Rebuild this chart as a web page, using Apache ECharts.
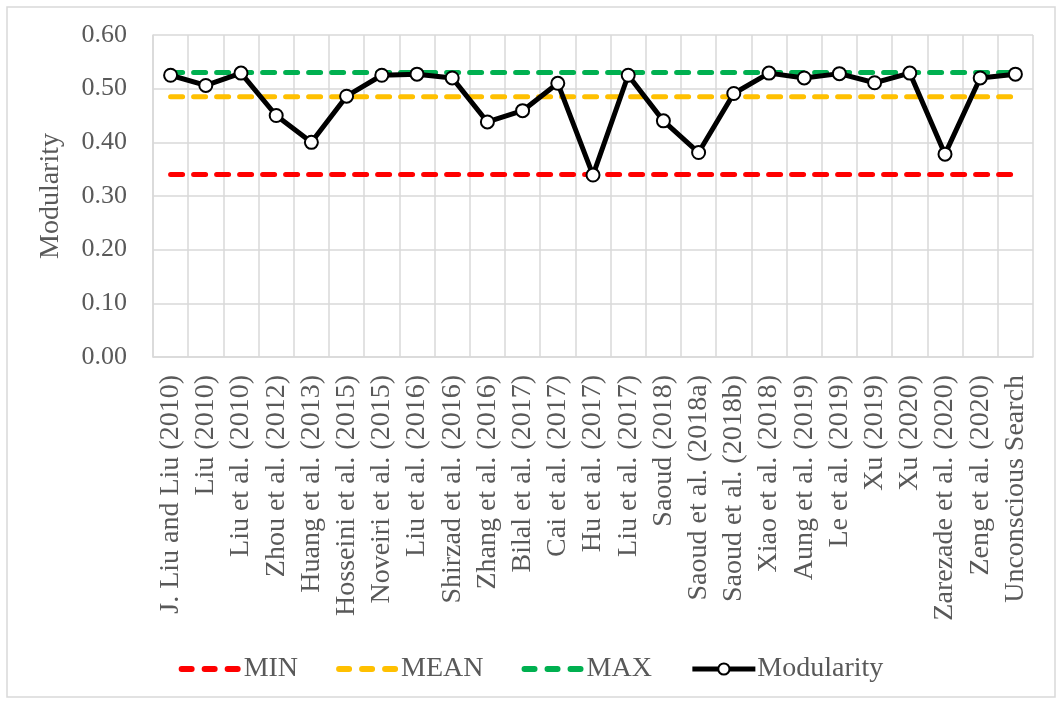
<!DOCTYPE html>
<html><head><meta charset="utf-8">
<script src="https://cdn.jsdelivr.net/npm/echarts@6/dist/echarts.min.js"></script>
<style>html,body{margin:0;padding:0;background:#fff}#c{width:1062px;height:704px}</style>
</head><body><div id="c"></div>
<script>
const categories = ["J. Liu and Liu (2010)","Liu (2010)","Liu et al. (2010)","Zhou et al. (2012)","Huang et al. (2013)","Hosseini et al. (2015)","Noveiri et al. (2015)","Liu et al. (2016)","Shirzad et al. (2016)","Zhang et al. (2016)","Bilal et al. (2017)","Cai et al. (2017)","Hu et al. (2017)","Liu et al. (2017)","Saoud (2018)","Saoud et al. (2018a)","Saoud et al. (2018b)","Xiao et al. (2018)","Aung et al. (2019)","Le et al. (2019)","Xu (2019)","Xu (2020)","Zarezade et al. (2020)","Zeng et al. (2020)","Unconscious Search"];
const modularity = [0.525,0.506,0.529,0.450,0.400,0.486,0.525,0.527,0.520,0.438,0.459,0.510,0.339,0.525,0.440,0.381,0.491,0.529,0.520,0.528,0.511,0.529,0.378,0.520,0.527];
const MIN = 0.34, MEAN = 0.485, MAX = 0.53;
const yTicks = [0,0.1,0.2,0.3,0.4,0.5,0.6];

const FONT = '"Liberation Serif","Times New Roman",serif';
const TXT = '#595959';
const chart = echarts.init(document.getElementById('c'));
const flat = v => categories.map(() => v);
const DASH_ICON = 'path://M0,0L0.05,0L0,0.05Z M63,14L62.95,14L63,13.95Z ' +
  'M3,4h10a3,3 0 0 1 0,6h-10a3,3 0 0 1 0,-6Z ' +
  'M26,4h10a3,3 0 0 1 0,6h-10a3,3 0 0 1 0,-6Z ' +
  'M49,4h10a3,3 0 0 1 0,6h-10a3,3 0 0 1 0,-6Z';
const dashed = (name, color, v) => ({
  name, type:'line', data: flat(v), symbol:'none', silent:true,
  lineStyle:{color, width:5, type:[12,11], cap:'round'}, itemStyle:{color}
});
chart.setOption({
  animation:false,
  graphic:[{type:'rect', shape:{x:7,y:7,width:1048,height:690}, style:{fill:'none', stroke:'#d9d9d9', lineWidth:1.5}, silent:true}],
  grid:{left:153, right:29, top:35, bottom:347},
  legend:{
    bottom:16, left:'center', itemWidth:63, itemHeight:14, itemGap:38,
    textStyle:{fontFamily:FONT, fontSize:28, color:TXT, padding:[0,0,0,-3]},
    data:[
      {name:'MIN', icon:DASH_ICON, itemStyle:{color:'#ff0000'}},
      {name:'MEAN', icon:DASH_ICON, itemStyle:{color:'#ffc000'}},
      {name:'MAX', icon:DASH_ICON, itemStyle:{color:'#00b050'}},
      {name:'Modularity', lineStyle:{width:5, color:'#000'}}
    ]
  },
  xAxis:{
    type:'category', data:categories, boundaryGap:true,
    axisLine:{lineStyle:{color:'#d9d9d9', width:1.5}},
    axisTick:{show:false},
    splitLine:{show:true, interval:0, lineStyle:{color:'#d9d9d9', width:1.5}},
    axisLabel:{interval:0, rotate:90, margin:18, fontFamily:FONT, fontSize:28, color:TXT}
  },
  yAxis:{
    type:'value', min:0, max:0.6, interval:0.1,
    name:'Modularity', nameLocation:'middle', nameGap:88, nameRotate:90,
    nameTextStyle:{fontFamily:FONT, fontSize:28, color:TXT},
    axisLine:{show:true, lineStyle:{color:'#d9d9d9', width:1.5}},
    axisTick:{show:false},
    splitLine:{lineStyle:{color:'#d9d9d9', width:1.5}},
    axisLabel:{margin:26, fontFamily:FONT, fontSize:26, color:TXT, formatter:v=>v.toFixed(2)}
  },
  series:[
    dashed('MIN','#ff0000',MIN),
    dashed('MEAN','#ffc000',MEAN),
    dashed('MAX','#00b050',MAX),
    {name:'Modularity', type:'line', data:modularity, symbol:'circle', symbolSize:13, z:5,
     lineStyle:{color:'#000', width:5}, itemStyle:{color:'#fff', borderColor:'#000', borderWidth:2}}
  ]
});
</script></body></html>
